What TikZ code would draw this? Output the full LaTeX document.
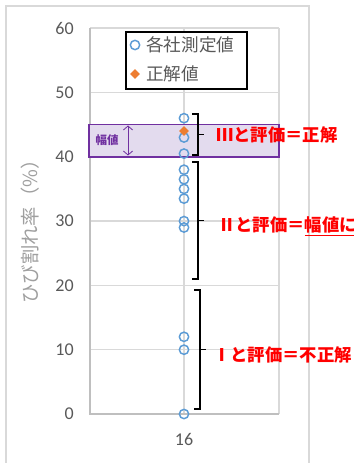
\documentclass[tikz,border=0pt]{standalone}
\usepackage{fontspec}
\setmainfont{Carlito}
\newfontfamily\cjk{Noto Sans CJK JP}
\usetikzlibrary{arrows.meta,shapes.geometric}

\definecolor{ptblue}{HTML}{5B9BD5}
\definecolor{ptorange}{HTML}{ED7D31}
\definecolor{bandpurple}{HTML}{7030A0}
\definecolor{bandfill}{HTML}{E3DBEE}
\definecolor{gridgray}{HTML}{D9D9D9}
\definecolor{axisgray}{HTML}{BFBFBF}
\definecolor{labelgray}{HTML}{595959}

\tikzset{
    gridline/.style = {draw=gridgray, line width=1.1pt},
    ticklabel/.style = {anchor=east, inner sep=0, text=labelgray, font=\fontsize{13.5}{14}\selectfont},
    measured/.style = {circle, draw=ptblue, line width=1.1pt, minimum size=7pt, inner sep=0},
    correct/.style = {diamond, fill=ptorange, minimum size=7.5pt, inner sep=0},
    legendtext/.style = {anchor=west, inner sep=0, text=labelgray, font=\cjk\fontsize{13.2}{14}\selectfont},
    verdict/.style = {anchor=west, inner sep=0, text=red, font=\cjk\bfseries\fontsize{13}{14}\selectfont},
    brace/.style = {draw=black, line width=1.3pt},
    pics/vbrace/.style n args = {2}{
        code = {
        \draw [brace] (-6,#1) -- (0,#1) -- (0,#2) -- (-6,#2);
        \draw [brace] (0,{(#1+#2)/2}) -- (6,{(#1+#2)/2});
        }
    }
}

\begin{document}
\begin{tikzpicture}[x=0.75pt, y=-0.75pt]
    \useasboundingbox (0,0) rectangle (353,463);

    % frame
    \draw [gridgray, line width=1.1pt] (6,470) -- (6,6) -- (309,6) -- (309,470);

    % plot area
    \draw [gridline] (90,28.2) -- (279,28.2);
    \draw [gridline] (90,92.5) -- (279,92.5);
    \draw [gridline] (90,156.8) -- (279,156.8);
    \draw [gridline] (90,221.1) -- (279,221.1);
    \draw [gridline] (90,285.4) -- (279,285.4);
    \draw [gridline] (90,349.7) -- (279,349.7);
    \draw [gridline] (279,28.2) -- (279,414);
    \draw [gridline] (184,28.2) -- (184,414);
    \draw [axisgray, line width=1.1pt] (90,28.2) -- (90,414) -- (279,414);

    \node[ticklabel] (t60) at (74,28.2) {60};
    \node[ticklabel] (t50) at (74,92.5) {50};
    \node[ticklabel] (t40) at (74,156.8) {40};
    \node[ticklabel] (t30) at (74,221.1) {30};
    \node[ticklabel] (t20) at (74,285.4) {20};
    \node[ticklabel] (t10) at (74,349.7) {10};
    \node[ticklabel] (t0) at (74,414) {0};
    \node[ticklabel, anchor=center] (cat) at (184,439) {16};
    \node[rotate=90, inner sep=0, text=gray!75, font=\cjk\fontsize{14.5}{15}\selectfont] (ylab) at (30,227) {ひび割れ率（\%）};

    % legend
    \draw [black, line width=1.5pt, fill=white] (126,32) rectangle (247,89);
    \node[measured] (lm) at (135,45) {};
    \node[correct] (lc) at (135,74) {};
    \node[legendtext] (lmt) at (146,45) {各社測定値};
    \node[legendtext] (lct) at (146,74) {正解値};

    % band
    \draw [bandpurple, line width=1.1pt, fill=bandfill] (89,124.6) rectangle (279,156.8);
    \node[inner sep=0, text=bandpurple, font=\cjk\bfseries\fontsize{8.6}{9}\selectfont] (wlab) at (107,140) {幅値};
    \coordinate(Wn) at (128,125.5);
    \coordinate(Ws) at (128,155.5);
    \draw [{Straight Barb[length=3pt,width=7pt]}-{Straight Barb[length=3pt,width=7pt]}, bandpurple, line width=0.6pt] (Wn)--(Ws);

    % data
    \node[measured] (m1) at (184,414) {};
    \node[measured] (m2) at (184,349.7) {};
    \node[measured] (m3) at (184,336.8) {};
    \node[measured] (m4) at (184,227.5) {};
    \node[measured] (m5) at (184,221.1) {};
    \node[measured] (m6) at (184,198.6) {};
    \node[measured] (m7) at (184,188.9) {};
    \node[measured] (m8) at (184,179.3) {};
    \node[measured] (m9) at (184,169.7) {};
    \node[measured] (m10) at (184,153.6) {};
    \node[measured] (m11) at (184,137.5) {};
    \node[measured] (m12) at (184,118.2) {};
    \node[correct] (ans) at (184,131.1) {};

    % verdicts
    \path pic at (198,0) {vbrace={114}{155}};
    \path pic at (198,0) {vbrace={162}{279}};
    \path pic at (200,0) {vbrace={290}{409}};

    \node[verdict] (v3) at (216,134.5) {Ⅲと評価＝正解};
    \node[verdict] (v2) at (218,226) {Ⅱと評価＝\underline{幅値に}};
    \node[verdict] (v1) at (213,355) {Ⅰと評価＝不正解};

\end{tikzpicture}
\end{document}
